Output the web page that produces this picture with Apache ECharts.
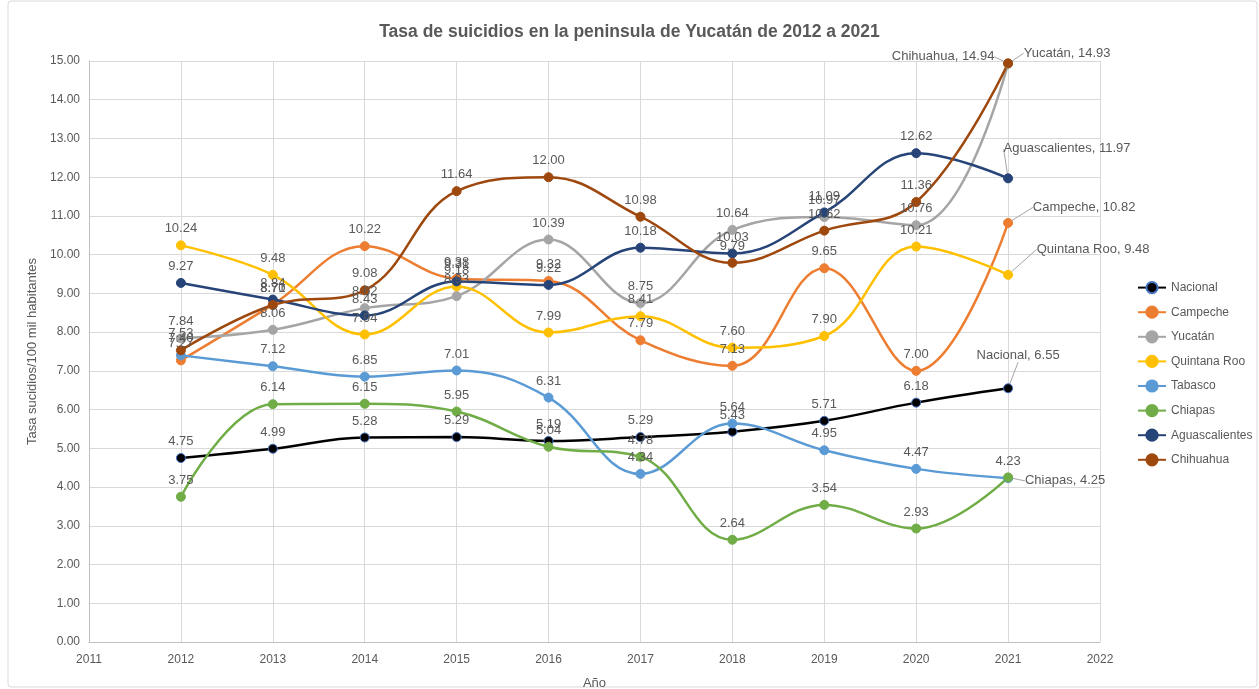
<!DOCTYPE html>
<html>
<head>
<meta charset="UTF-8">
<title>Tasa de suicidios</title>
<style>
html, body { margin: 0; padding: 0; background: #fff; }
#main { width: 1259px; height: 689px; }
</style>
</head>
<body>
<div id="main"></div>
<script src="https://cdn.jsdelivr.net/npm/echarts@6/dist/echarts.min.js"></script>
<script>
// años y tasas por entidad (suicidios por 100 mil habitantes)
var years = [2012, 2013, 2014, 2015, 2016, 2017, 2018, 2019, 2020, 2021];
var nacional       = [4.75, 4.99, 5.28, 5.29, 5.19, 5.29, 5.43, 5.71, 6.18, 6.55];
var campeche       = [7.27, 8.71, 10.22, 9.38, 9.32, 7.79, 7.13, 9.65, 7.00, 10.82];
var yucatan        = [7.84, 8.06, 8.62, 8.93, 10.39, 8.75, 10.64, 10.97, 10.76, 14.93];
var quintanaRoo    = [10.24, 9.48, 7.94, 9.18, 7.99, 8.41, 7.60, 7.90, 10.21, 9.48];
var tabasco        = [7.40, 7.12, 6.85, 7.01, 6.31, 4.34, 5.64, 4.95, 4.47, 4.23];
var chiapas        = [3.75, 6.14, 6.15, 5.95, 5.04, 4.78, 2.64, 3.54, 2.93, 4.25];
var aguascalientes = [9.27, 8.84, 8.43, 9.31, 9.22, 10.18, 10.03, 11.09, 12.62, 11.97];
var chihuahua      = [7.53, 8.70, 9.08, 11.64, 12.00, 10.98, 9.79, 10.62, 11.36, 14.94];

var names  = ['Nacional', 'Campeche', 'Yucatán', 'Quintana Roo', 'Tabasco', 'Chiapas', 'Aguascalientes', 'Chihuahua'];
var values = [nacional, campeche, yucatan, quintanaRoo, tabasco, chiapas, aguascalientes, chihuahua];
var colors = ['#000000', '#ED7D31', '#A5A5A5', '#FFC000', '#5B9BD5', '#70AD47', '#264478', '#9E480E'];

// desplazamiento de las etiquetas finales (con nombre y línea guía)
var endLabel = {
  'Nacional': [10, -16],
  'Yucatán': [59, 6],
  'Quintana Roo': [85, -9],
  'Campeche': [76, 1],
  'Chiapas': [57, 20],
  'Aguascalientes': [59, -13],
  'Chihuahua': [-65, 10]
};

var txt = '#595959';
var font = 'Liberation Sans';

var series = [];
for (var i = 0; i < names.length; i++) {
  var name = names[i];
  var data = [];
  for (var j = 0; j < years.length; j++) {
    var item = { value: [years[j], values[i][j]] };
    if (j == years.length - 1 && endLabel[name]) {
      item.label = {
        formatter: (function (n) {
          return function (p) { return n + ', ' + p.value[1].toFixed(2); };
        })(name)
      };
      item.labelLine = { show: true, lineStyle: { color: '#a6a6a6', width: 1 } };
    }
    data.push(item);
  }
  series.push({
    name: name,
    type: 'line',
    smooth: 0.4,
    symbol: 'circle',
    symbolSize: 9,
    data: data,
    lineStyle: { color: colors[i], width: 2.5 },
    itemStyle: {
      color: colors[i],
      borderColor: i == 0 ? '#4472C4' : colors[i],
      borderWidth: 1
    },
    label: {
      show: true,
      position: 'top',
      distance: 5,
      color: txt,
      fontFamily: font,
      fontSize: 13,
      formatter: function (p) { return p.value[1].toFixed(2); }
    },
    labelLayout: (function (n) {
      return function (p) {
        if (p.dataIndex == years.length - 1 && endLabel[n]) {
          return { dx: endLabel[n][0], dy: endLabel[n][1] };
        }
        return {};
      };
    })(name)
  });
}

var myChart = echarts.init(document.getElementById('main'));
var option = {
  backgroundColor: '#ffffff',
  animation: false,
  title: {
    text: 'Tasa de suicidios en la peninsula de Yucatán de 2012 a 2021',
    left: 'center',
    top: 18,
    textStyle: { color: txt, fontFamily: font, fontSize: 17.5, fontWeight: 'bold' }
  },
  legend: {
    orient: 'vertical',
    left: 1132,
    top: 276,
    itemGap: 11.4,
    itemWidth: 28,
    itemHeight: 14,
    data: names,
    textStyle: { color: txt, fontFamily: font, fontSize: 12 }
  },
  grid: { left: 89, right: 159, top: 61, bottom: 47, outerBoundsMode: 'none' },
  xAxis: {
    type: 'value',
    min: 2011,
    max: 2022,
    interval: 1,
    name: 'Año',
    nameLocation: 'middle',
    nameGap: 35,
    nameTextStyle: { color: txt, fontFamily: font, fontSize: 13 },
    axisLine: { show: true, lineStyle: { color: '#bfbfbf' } },
    axisTick: { show: false },
    axisLabel: { color: txt, fontFamily: font, fontSize: 12, margin: 12, formatter: function (v) { return String(v); } },
    splitLine: { show: true, lineStyle: { color: '#d9d9d9' } }
  },
  yAxis: {
    type: 'value',
    min: 0,
    max: 15,
    interval: 1,
    name: 'Tasa sucidios/100 mil habitantes',
    nameLocation: 'middle',
    nameGap: 38,
    nameTextStyle: { color: txt, fontFamily: font, fontSize: 13 },
    axisLine: { show: true, lineStyle: { color: '#bfbfbf' } },
    axisTick: { show: false },
    axisLabel: { color: txt, fontFamily: font, fontSize: 12, margin: 9, formatter: function (v) { return v.toFixed(2); } },
    splitLine: { show: true, lineStyle: { color: '#d9d9d9' } }
  },
  graphic: [{
    type: 'rect',
    shape: { x: 8, y: 1, width: 1249, height: 686, r: 3 },
    style: { fill: 'none', stroke: '#d9d9d9', lineWidth: 1 },
    silent: true
  }],
  series: series
};
myChart.setOption(option);
</script>
</body>
</html>
